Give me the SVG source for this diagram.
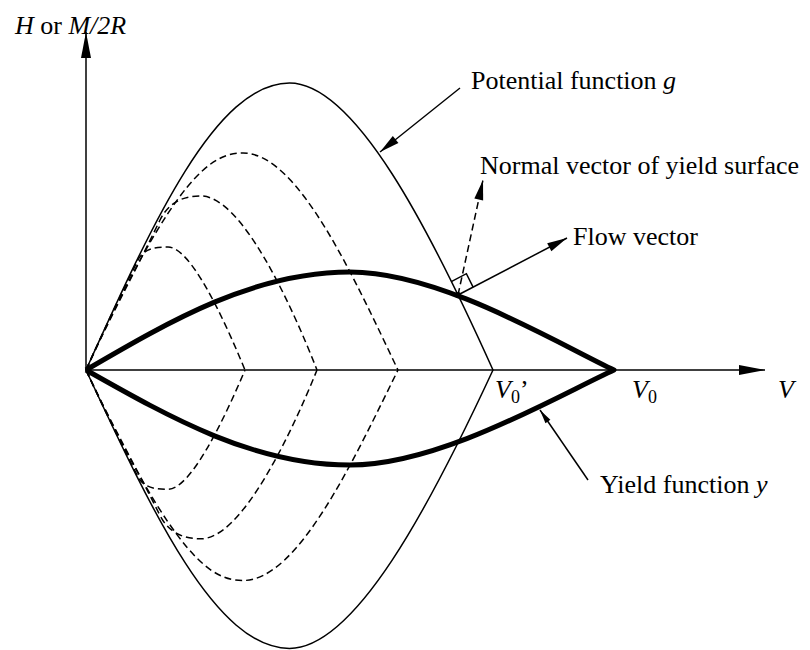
<svg xmlns="http://www.w3.org/2000/svg" width="810" height="650" viewBox="0 0 810 650">
<style>
.thin{fill:none;stroke:#000;stroke-width:1.5}
.thick{fill:none;stroke:#000;stroke-width:5;stroke-linejoin:round}
.dash{fill:none;stroke:#000;stroke-width:1.5;stroke-dasharray:7 4}
.lead{fill:none;stroke:#000;stroke-width:1.5}
.lbl{font-family:"Liberation Serif","Times New Roman",serif;font-size:26px;fill:#000}
.it{font-style:italic}
</style>
<defs>
<marker id="axisHead" markerUnits="userSpaceOnUse" markerWidth="26" markerHeight="10" refX="26" refY="5" orient="auto" overflow="visible">
<path d="M0,0 L26,5 L0,10 z" fill="#000"/>
</marker>
<marker id="head" markerUnits="userSpaceOnUse" markerWidth="20" markerHeight="9" refX="20" refY="4.5" orient="auto" overflow="visible">
<path d="M0,0 L20,4.5 L0,9 z" fill="#000"/>
</marker>
<marker id="headSmall" markerUnits="userSpaceOnUse" markerWidth="14" markerHeight="6" refX="14" refY="3" orient="auto" overflow="visible">
<path d="M0,0 L14,3 L0,6 z" fill="#000"/>
</marker>
</defs>
<rect width="810" height="650" fill="#fff"/>

<g id="axes">
<line class="thin" x1="86" y1="370" x2="86" y2="32" marker-end="url(#axisHead)"/>
<line class="thin" x1="86" y1="370" x2="765" y2="370" marker-end="url(#axisHead)"/>
</g>

<g id="dashed-family">
<path class="dash" d="M86,370 C103,332 121,294 138,260 C144,248 156,247 168,247 C190,247 222,314 245,370"/>
<path class="dash" d="M86,370 C111,315 135,272 160,220 C170,200 186,196 201,196 C241,196 290,301 317,370"/>
<path class="dash" d="M86,370 C176,172 213,153 243,153 C298,153 353,276 398,370"/>
<path class="dash" d="M86,370 C103,406.9 121,443.7 138,476.7 C144,488.3 156,489.3 168,489.3 C190,489.3 222,424.3 245,370"/>
<path class="dash" d="M86,370 C111,423.4 135,465.1 160,515.5 C170,534.9 186,538.8 201,538.8 C241,538.8 290,436.9 317,370"/>
<path class="dash" d="M86,370 C176,562.1 213,580.5 243,580.5 C298,580.5 353,461.2 398,370"/>
</g>

<g id="potential-g">
<path class="thin" d="M86,370 C152.4,223 215.9,83 289.5,83 C355,83 430,230 493,370 C430,505.8 355,648.4 289.5,648.4 C215.9,648.4 152.4,512.6 86,370"/>
</g>

<g id="yield-y">
<path class="thick" d="M86,370 C172.1,319.8 254.5,272 350,272 C440,272 555,342 614,370 C555,397.2 440,465.1 350,465.1 C254.5,465.1 172.1,418.7 86,370"/>
<circle cx="458" cy="295" r="3" fill="#000"/>
</g>

<g id="connectors">
<line class="lead" x1="460" y1="88" x2="380" y2="152" marker-end="url(#head)"/>
<line class="lead" x1="458" y1="295" x2="567" y2="238" marker-end="url(#head)"/>
<line class="dash" x1="458" y1="295" x2="483" y2="180" stroke-dasharray="6 4" marker-end="url(#head)"/>
<line class="lead" x1="588" y1="480" x2="540" y2="410" marker-end="url(#headSmall)"/>
<path class="lead" d="M451.3,281.6 L466.4,273.7 L473.1,287.1"/>
</g>

<g id="labels">
<text class="lbl" x="15" y="34"><tspan class="it">H</tspan> or <tspan class="it">M/2R</tspan></text>
<text class="lbl" x="471" y="89">Potential function <tspan class="it">g</tspan></text>
<text class="lbl" x="480" y="174">Normal vector of yield surface</text>
<text class="lbl" x="573" y="245">Flow vector</text>
<text class="lbl" x="495" y="398"><tspan class="it">V</tspan><tspan font-size="18" dy="5">0</tspan><tspan dy="-5">’</tspan></text>
<text class="lbl" x="632" y="398"><tspan class="it">V</tspan><tspan font-size="18" dy="5">0</tspan></text>
<text class="lbl it" x="778" y="398">V</text>
<text class="lbl" x="600" y="493">Yield function <tspan class="it">y</tspan></text>
</g>
</svg>
